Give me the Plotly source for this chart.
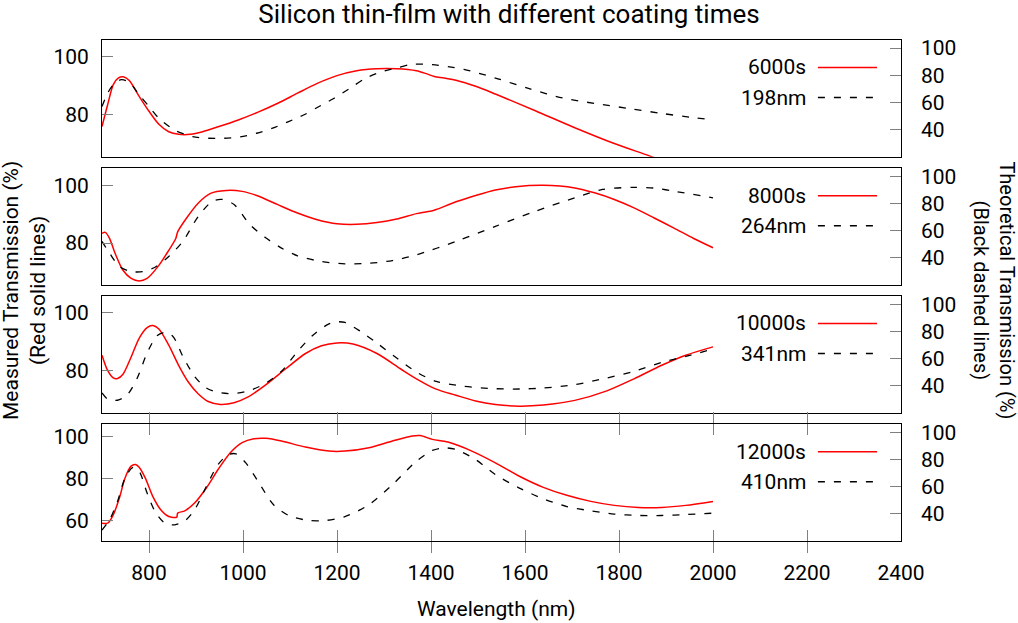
import plotly.graph_objects as go

# measured transmission (%) vs wavelength (nm), red solid lines
wl_6000s = [700, 712, 724, 735, 745, 758, 779, 800, 821, 842, 863, 888, 914, 947, 990, 1032, 1074, 1116,
            1158, 1200, 1242, 1285, 1327, 1369, 1390, 1407, 1428, 1453, 1495, 1537, 1622, 1706, 1790, 1866, 2000]
t_6000s = [75.8, 83.4, 90.4, 92.7, 93.1, 91.8, 86.3, 81.1, 76.6, 74.0, 73.1, 73.1, 74.0, 75.7, 78.1, 80.8, 83.9, 87.4,
           90.8, 93.5, 95.2, 95.9, 95.9, 95.2, 94.2, 93.2, 92.7, 91.9, 89.8, 87.1, 81.3, 75.4, 69.9, 65.5, 57.5]

wl_8000s = [700, 707, 716, 728, 745, 762, 779, 796, 821, 842, 857, 861, 880, 905, 931, 964, 998, 1032, 1074, 1116,
            1158, 1200, 1242, 1285, 1327, 1369, 1403, 1411, 1453, 1495, 1537, 1580, 1639, 1706, 1748, 1790, 1832,
            1875, 1917, 1959, 2000]
t_8000s = [83.4, 83.7, 81.6, 76.4, 70.5, 67.8, 66.9, 67.8, 72.3, 77.5, 81.6, 83.9, 88.7, 93.9, 97.2, 98.2, 97.9, 96.3,
           93.3, 90.4, 88.1, 86.7, 86.5, 87.1, 88.3, 90.2, 91.2, 91.6, 94.3, 96.5, 98.4, 99.5, 100.0, 99.1, 97.4,
           95.1, 92.2, 88.7, 85.2, 81.6, 78.4]

wl_10000s = [700, 712, 724, 733, 745, 762, 779, 796, 808, 821, 842, 863, 884, 905, 926, 952, 981, 1011, 1049, 1091,
             1133, 1167, 1200, 1234, 1285, 1335, 1369, 1411, 1453, 1495, 1537, 1588, 1639, 1706, 1774, 1832, 1891,
             1942, 2000]
t_10000s = [85.3, 80.0, 77.4, 77.2, 78.8, 84.7, 91.2, 94.9, 95.6, 94.4, 88.8, 81.8, 75.9, 71.8, 69.2, 68.2, 68.8, 70.8,
            75.1, 80.6, 85.9, 88.6, 89.6, 89.2, 85.9, 80.6, 77.1, 73.5, 71.4, 69.4, 68.2, 67.6, 68.0, 69.6, 72.9, 77.1,
            81.8, 85.3, 88.2]

wl_12000s = [700, 712, 724, 737, 749, 762, 771, 779, 792, 808, 825, 842, 859, 861, 876, 897, 922, 947, 973, 998, 1023,
             1049, 1082, 1133, 1183, 1217, 1268, 1318, 1360, 1377, 1403, 1436, 1487, 1537, 1588, 1639, 1689, 1740,
             1790, 1841, 1891, 1942, 2000]
t_12000s = [58.7, 58.7, 62.7, 70.7, 80.3, 85.9, 86.7, 85.4, 80.3, 71.5, 65.1, 61.9, 61.6, 63.5, 64.6, 68.3, 75.5, 84.3,
            92.3, 97.1, 99.0, 99.2, 97.9, 95.0, 93.1, 93.1, 94.7, 97.9, 100.3, 100.5, 98.7, 97.4, 93.1, 87.5, 81.1,
            75.8, 72.0, 69.1, 67.2, 66.2, 66.2, 67.2, 69.1]

# theoretical transmission (%) vs wavelength (nm), black dashed lines
wl_198nm = [700, 712, 724, 741, 758, 779, 800, 821, 855, 893, 926, 960, 994, 1029, 1063, 1097, 1130, 1158, 1192,
            1226, 1259, 1293, 1327, 1360, 1403, 1436, 1470, 1537, 1609, 1681, 1748, 1820, 1891, 1963, 2000]
t_198nm = [57.0, 66.9, 73.1, 76.8, 74.8, 65.7, 57.0, 48.4, 39.5, 34.8, 33.6, 33.6, 34.6, 37.3, 41.0, 45.9, 50.9, 56.3,
           62.7, 70.1, 77.5, 82.5, 85.4, 88.1, 87.9, 86.4, 84.4, 78.0, 70.1, 63.2, 59.3, 55.6, 51.9, 48.6, 47.2]

wl_264nm = [700, 716, 737, 762, 787, 813, 842, 872, 905, 935, 956, 981, 1015, 1049, 1082, 1116, 1167, 1217, 1268,
            1318, 1369, 1453, 1537, 1622, 1706, 1765, 1832, 1875, 1917, 2000]
t_264nm = [52.1, 43.5, 33.6, 29.9, 29.9, 33.1, 41.0, 52.1, 70.6, 81.7, 83.0, 79.3, 64.4, 54.6, 47.2, 41.5, 37.3, 35.6,
           36.0, 38.0, 42.2, 52.1, 63.2, 74.3, 84.2, 90.4, 91.9, 91.4, 89.1, 84.2]

wl_341nm = [700, 712, 733, 754, 775, 796, 817, 834, 851, 872, 897, 922, 947, 981, 1015, 1049, 1082, 1116, 1150, 1183,
            1200, 1217, 1250, 1285, 1327, 1369, 1411, 1470, 1537, 1588, 1639, 1706, 1774, 1832, 1891, 1942, 2000]
t_341nm = [34.6, 30.1, 29.2, 33.3, 45.6, 64.0, 76.7, 79.2, 76.2, 61.5, 46.8, 38.2, 35.0, 34.1, 36.5, 41.9, 50.5, 65.2,
           77.5, 85.5, 87.0, 86.5, 79.9, 71.3, 60.3, 50.0, 43.1, 39.5, 37.7, 37.5, 38.2, 40.7, 45.6, 50.5, 57.1, 61.5,
           66.9]

wl_410nm = [700, 716, 733, 749, 766, 779, 796, 813, 834, 855, 876, 897, 922, 947, 969, 985, 1006, 1032, 1065, 1099,
            1141, 1175, 1217, 1268, 1318, 1369, 1403, 1428, 1453, 1495, 1537, 1588, 1639, 1689, 1740, 1790, 1841,
            1891, 1942, 2000]
t_410nm = [28.1, 35.6, 49.1, 66.4, 74.3, 71.4, 55.3, 41.7, 33.1, 31.9, 34.8, 43.0, 60.2, 76.3, 83.7, 84.2, 77.5, 64.0,
           46.7, 38.5, 35.1, 35.1, 38.0, 46.7, 61.5, 78.8, 86.7, 88.6, 87.4, 80.0, 68.9, 59.0, 51.1, 45.4, 42.2, 39.8,
           38.8, 38.8, 39.5, 40.5]

measured = [("6000s", wl_6000s, t_6000s), ("8000s", wl_8000s, t_8000s),
            ("10000s", wl_10000s, t_10000s), ("12000s", wl_12000s, t_12000s)]
theory = [("198nm", wl_198nm, t_198nm), ("264nm", wl_264nm, t_264nm),
          ("341nm", wl_341nm, t_341nm), ("410nm", wl_410nm, t_410nm)]
left_ranges = [[65.3, 105.9], [65.5, 105.9], [65.3, 105.9], [50.2, 105.9]]
left_ticks = [[80, 100], [80, 100], [80, 100], [60, 80, 100]]
right_ticks = [40, 60, 80, 100]
x_ticks = [800, 1000, 1200, 1400, 1600, 1800, 2000, 2200, 2400]

FONT = "Roboto, Arial, sans-serif"
FS = 21
TICK_GREY = "#808080"
DASH = "7px,9px"
domains = [[0.767, 1.0], [0.511, 0.744], [0.256, 0.489], [0.0, 0.233]]

fig = go.Figure()
annotations = []
shapes = []

for i in range(4):
    k = i + 1
    xid = "x" if k == 1 else f"x{k}"
    yl = "y" if k == 1 else f"y{2 * k - 1}"
    yr = f"y{2 * k}"
    bottom = k == 4

    name_m, wl_m, t_m = measured[i]
    name_t, wl_t, t_t = theory[i]
    fig.add_trace(go.Scatter(x=wl_m, y=t_m, xaxis=xid, yaxis=yl, mode="lines", name=name_m,
                             line=dict(color="red", width=1.5, shape="spline", smoothing=0.8)))
    fig.add_trace(go.Scatter(x=wl_t, y=t_t, xaxis=xid, yaxis=yr, mode="lines", name=name_t,
                             line=dict(color="black", width=1.3, dash=DASH, shape="spline", smoothing=0.8)))

    fig.layout["xaxis" if k == 1 else f"xaxis{k}"] = dict(
        domain=[0, 1], anchor=yl, range=[700, 2400], showgrid=False, zeroline=False,
        showline=True, linecolor="black", linewidth=1, mirror="allticks" if bottom else True,
        ticks="inside" if bottom else "", ticklen=11, tickcolor=TICK_GREY,
        tickvals=x_ticks if bottom else [], showticklabels=bottom, ticklabelstandoff=13,
        tickfont=dict(size=FS, color="black"),
    )
    fig.layout["yaxis" if k == 1 else f"yaxis{2 * k - 1}"] = dict(
        domain=domains[i], anchor=xid, range=left_ranges[i], showgrid=False, zeroline=False,
        showline=True, linecolor="black", linewidth=1, mirror=True,
        ticks="inside", ticklen=11, tickcolor=TICK_GREY, tickvals=left_ticks[i],
        ticklabelstandoff=8, tickfont=dict(size=FS, color="black"),
    )
    fig.layout[f"yaxis{2 * k}"] = dict(
        overlaying=yl, anchor=xid, side="right", range=[20, 106], showgrid=False, zeroline=False,
        showline=False, ticks="inside", ticklen=11, tickcolor=TICK_GREY, tickvals=right_ticks,
        ticklabelstandoff=19, tickfont=dict(size=FS, color="black"),
    )

    # gnuplot-style key: label on the left, sample line on the right
    for row, (label, colour, dash) in enumerate([(name_m, "red", "solid"), (name_t, "black", DASH)]):
        yk = 0.765 - row * 0.258
        annotations.append(dict(text=label, xref=f"{xid} domain", yref=f"{yl} domain", x=0.883, y=yk,
                                xanchor="right", yanchor="middle", showarrow=False,
                                font=dict(size=FS, color="black")))
        shapes.append(dict(type="line", xref=f"{xid} domain", yref=f"{yl} domain",
                           x0=0.896, x1=0.970, y0=yk, y1=yk,
                           line=dict(color=colour, width=1.5, dash=dash)))

annotations += [
    dict(text="Wavelength (nm)", xref="paper", yref="paper", x=0.494, y=-0.136,
         xanchor="center", yanchor="middle", showarrow=False, font=dict(size=FS)),
    dict(text="Measured Transmission (%)<br>(Red solid lines)", xref="paper", yref="paper",
         x=-0.097, y=0.5, xanchor="center", yanchor="middle", textangle=-90, showarrow=False,
         font=dict(size=FS)),
    dict(text="Theoretical Transmission (%)<br>(Black dashed lines)", xref="paper", yref="paper",
         x=1.1165, y=0.5, xanchor="center", yanchor="middle", textangle=90, showarrow=False,
         font=dict(size=20)),
]

fig.update_layout(
    width=1018, height=623,
    template="plotly_white",
    paper_bgcolor="white", plot_bgcolor="white",
    font=dict(family=FONT, size=FS, color="black"),
    title=dict(text="Silicon thin-film with different coating times", x=0.5, xanchor="center",
               y=0.977, yanchor="middle", font=dict(size=26, color="black")),
    margin=dict(l=102, r=117, t=40, b=82),
    showlegend=False,
    annotations=annotations,
    shapes=shapes,
)

# drop the default page margin so the figure sits at the window's corner
fig.write_html("out.html", config={"displayModeBar": False},
               post_script="document.body.style.margin='0';")
